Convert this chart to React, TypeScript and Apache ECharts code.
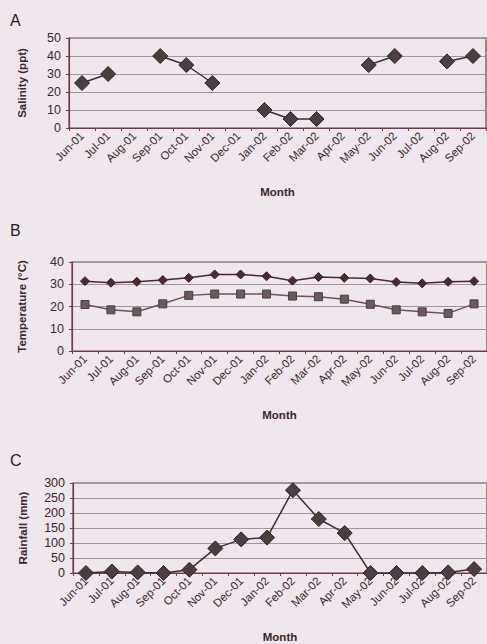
import React, { useEffect, useRef } from "react";
import * as echarts from "echarts";

const months = [
  "Jun-01", "Jul-01", "Aug-01", "Sep-01", "Oct-01", "Nov-01", "Dec-01", "Jan-02",
  "Feb-02", "Mar-02", "Apr-02", "May-02", "Jun-02", "Jul-02", "Aug-02", "Sep-02",
];

const salinity: (number | null)[] = [25, 30, null, 40, 35, 25, null, 10, 5, 5, null, 35, 40, null, 37, 40];

const tempHigh = [31.4, 30.7, 31.1, 31.9, 32.9, 34.4, 34.4, 33.6, 31.6, 33.3, 32.9, 32.6, 31.0, 30.4, 31.1, 31.4];
const tempLow = [20.9, 18.5, 17.6, 21.2, 25.0, 25.6, 25.6, 25.6, 24.7, 24.4, 23.3, 21.0, 18.5, 17.6, 16.9, 21.2];

const rainfall = [0, 5, 2, 0, 11, 82, 112, 118, 276, 180, 133, 0, 0, 0, 2, 13];

const FONT = "'Liberation Sans', Arial, Helvetica, sans-serif";
const TEXT = "#3b262d";
const FRAME = "#6e3f48";
const GRID = "#a3959b";
const BG = "#f0e7ee";

export default function App() {
  const ref = useRef<HTMLDivElement>(null);
  useEffect(() => {
    if (!ref.current) return;
    const chart = echarts.init(ref.current, null, { renderer: "svg" });

    const grids = [
      { left: 69, top: 38, width: 417, height: 90 },
      { left: 72, top: 262, width: 416, height: 89 },
      { left: 73, top: 483, width: 416, height: 92 },
    ];
    const yNames = ["Salinity (ppt)", "Temperature (°C)", "Rainfall (mm)"];
    const yMax = [50, 40, 300];
    const yInt = [10, 10, 50];
    const yGap = [41, 44, 44];

    const xAxes = grids.map((_, i) => ({
      type: "category",
      gridIndex: i,
      data: months,
      boundaryGap: true,
      name: "Month",
      nameLocation: "middle",
      nameGap: 58,
      nameTextStyle: { fontFamily: FONT, fontSize: 11.5, fontWeight: "bold", color: TEXT },
      axisLine: { show: true, lineStyle: { color: FRAME, width: 1.2 } },
      axisTick: { show: true, length: 3, lineStyle: { color: FRAME } },
      axisLabel: {
        rotate: 45,
        interval: 0,
        margin: 6,
        fontFamily: FONT,
        fontSize: 11.5,
        color: TEXT,
      },
      splitLine: { show: false },
    }));

    const yAxes = grids.map((_, i) => ({
      type: "value",
      gridIndex: i,
      min: 0,
      max: yMax[i],
      interval: yInt[i],
      name: yNames[i],
      nameLocation: "middle",
      nameGap: yGap[i],
      nameTextStyle: { fontFamily: FONT, fontSize: 11.5, fontWeight: "bold", color: TEXT },
      axisLine: { show: true, lineStyle: { color: FRAME, width: 1.2 } },
      axisTick: { show: true, length: 3, lineStyle: { color: FRAME } },
      axisLabel: { fontFamily: FONT, fontSize: 12.5, color: TEXT, margin: 8 },
      splitLine: { show: true, lineStyle: { color: GRID, width: 1 } },
    }));

    const option: any = {
      animation: false,
      backgroundColor: BG,
      grid: grids.map((g) => ({
        ...g,
        show: true,
        borderColor: FRAME,
        borderWidth: 1.2,
        backgroundColor: "transparent",
      })),
      xAxis: xAxes,
      yAxis: yAxes,
      graphic: [
        { type: "text", left: 10, top: 12, style: { text: "A", font: `16px ${FONT}`, fill: "#222" } },
        { type: "text", left: 10, top: 222, style: { text: "B", font: `16px ${FONT}`, fill: "#222" } },
        { type: "text", left: 10, top: 452, style: { text: "C", font: `16px ${FONT}`, fill: "#222" } },
      ],
      series: [
        {
          type: "line",
          xAxisIndex: 0,
          yAxisIndex: 0,
          data: salinity,
          symbol: "diamond",
          symbolSize: 15,
          connectNulls: false,
          lineStyle: { color: "#3d2e33", width: 1.5 },
          itemStyle: { color: "#4b3d42", borderColor: "#2e2226", borderWidth: 1 },
        },
        {
          type: "line",
          xAxisIndex: 1,
          yAxisIndex: 1,
          data: tempHigh,
          symbol: "diamond",
          symbolSize: 9,
          lineStyle: { color: "#4a2630", width: 1.5 },
          itemStyle: { color: "#4a2a32", borderColor: "#3a1f26", borderWidth: 1 },
        },
        {
          type: "line",
          xAxisIndex: 1,
          yAxisIndex: 1,
          data: tempLow,
          symbol: "rect",
          symbolSize: 8,
          lineStyle: { color: "#6e5258", width: 1.5 },
          itemStyle: { color: "#6a5a5f", borderColor: "#4e3d42", borderWidth: 1 },
        },
        {
          type: "line",
          xAxisIndex: 2,
          yAxisIndex: 2,
          data: rainfall,
          symbol: "diamond",
          symbolSize: 15,
          lineStyle: { color: "#3d2e33", width: 1.5 },
          itemStyle: { color: "#4b3d42", borderColor: "#2e2226", borderWidth: 1 },
        },
      ],
    };
    chart.setOption(option);
    return () => chart.dispose();
  }, []);

  return (
    <div
      ref={ref}
      style={{ position: "fixed", left: 0, top: 0, width: 487, height: 644, background: BG }}
    />
  );
}
